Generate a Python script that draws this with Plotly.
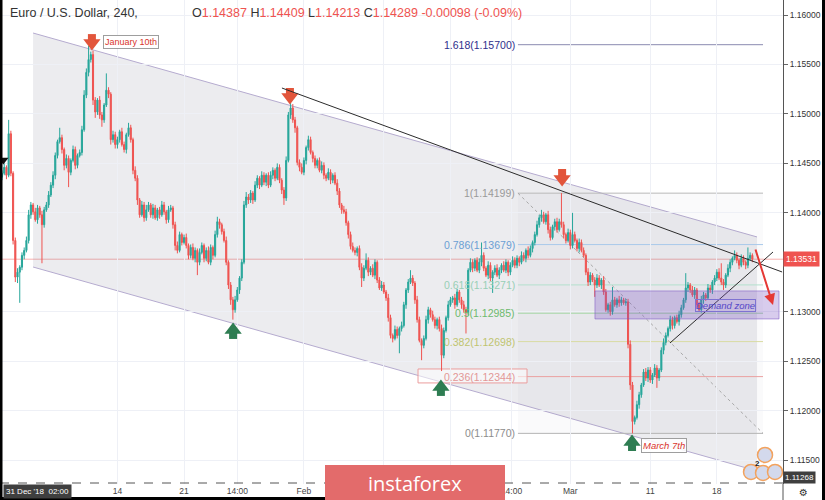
import plotly.graph_objects as go

# ---------------- data: EUR/USD, 240-minute candles ----------------
FIRST_OPEN = 1.1436

close_w0 = [1.1440, 1.1446, 1.1438, 1.1480, 1.1440, 1.1372, 1.1335, 1.1340, 1.1345, 1.1357,
            1.1362, 1.1372, 1.1398, 1.1408, 1.1401, 1.1393, 1.1405, 1.1398, 1.1388, 1.1403,
            1.1408, 1.1418]
close_w1 = [1.1428, 1.1438, 1.1458, 1.1472, 1.1476, 1.1464, 1.1448, 1.1455, 1.1441, 1.1453,
            1.1464, 1.1448, 1.1458, 1.1461, 1.1484, 1.1519, 1.1542, 1.1555, 1.1560, 1.1514,
            1.1502, 1.1514, 1.1499, 1.1494, 1.1509, 1.1524, 1.1520, 1.1474, 1.1479, 1.1469]
close_w2 = [1.1474, 1.1482, 1.1469, 1.1464, 1.1479, 1.1486, 1.1474, 1.1443, 1.1435, 1.1413,
            1.1398, 1.1408, 1.1395, 1.1403, 1.1408, 1.1398, 1.1405, 1.1395, 1.1403, 1.1398,
            1.1408, 1.1401, 1.1393, 1.1403, 1.1405, 1.1388, 1.1367, 1.1362, 1.1378, 1.1370]
close_w3 = [1.1375, 1.1367, 1.1357, 1.1365, 1.1354, 1.1362, 1.1350, 1.1360, 1.1367, 1.1354,
            1.1362, 1.1350, 1.1365, 1.1357, 1.1378, 1.1391, 1.1388, 1.1381, 1.1372, 1.1350,
            1.1327, 1.1312, 1.1302, 1.1312, 1.1322, 1.1334, 1.1350, 1.1408, 1.1416, 1.1413]
close_w4 = [1.1420, 1.1413, 1.1428, 1.1435, 1.1428, 1.1438, 1.1431, 1.1438, 1.1428, 1.1438,
            1.1443, 1.1435, 1.1446, 1.1433, 1.1423, 1.1415, 1.1453, 1.1499, 1.1506, 1.1494,
            1.1486, 1.1451, 1.1446, 1.1441, 1.1453, 1.1466, 1.1474, 1.1461, 1.1455, 1.1448]
close_w5 = [1.1453, 1.1443, 1.1448, 1.1438, 1.1435, 1.1441, 1.1433, 1.1438, 1.1430, 1.1422,
            1.1408, 1.1403, 1.1401, 1.1390, 1.1378, 1.1366, 1.1362, 1.1360, 1.1364, 1.1345,
            1.1334, 1.1344, 1.1352, 1.1340, 1.1344, 1.1337, 1.1350, 1.1332, 1.1324, 1.1327]
close_w6 = [1.1320, 1.1314, 1.1294, 1.1276, 1.1273, 1.1282, 1.1276, 1.1283, 1.1286, 1.1307,
            1.1322, 1.1330, 1.1334, 1.1329, 1.1312, 1.1292, 1.1271, 1.1266, 1.1273, 1.1292,
            1.1302, 1.1297, 1.1292, 1.1286, 1.1292, 1.1283, 1.1256, 1.1281, 1.1294, 1.1307]
close_w7 = [1.1312, 1.1314, 1.1307, 1.1320, 1.1312, 1.1307, 1.1302, 1.1299, 1.1342, 1.1350,
            1.1344, 1.1352, 1.1342, 1.1350, 1.1357, 1.1344, 1.1337, 1.1347, 1.1334, 1.1340,
            1.1344, 1.1337, 1.1342, 1.1347, 1.1342, 1.1350, 1.1340, 1.1347, 1.1352, 1.1347]
close_w8 = [1.1354, 1.1350, 1.1357, 1.1354, 1.1362, 1.1357, 1.1364, 1.1370, 1.1378, 1.1388,
            1.1395, 1.1398, 1.1391, 1.1398, 1.1383, 1.1375, 1.1386, 1.1391, 1.1383, 1.1391,
            1.1388, 1.1378, 1.1372, 1.1380, 1.1367, 1.1378, 1.1372, 1.1364, 1.1370, 1.1362]
close_w9 = [1.1357, 1.1340, 1.1330, 1.1337, 1.1332, 1.1327, 1.1334, 1.1327, 1.1332, 1.1320,
            1.1302, 1.1307, 1.1300, 1.1312, 1.1307, 1.1312, 1.1309, 1.1312, 1.1309, 1.1310,
            1.1267, 1.1226, 1.1189, 1.1193, 1.1206, 1.1216, 1.1226, 1.1239, 1.1233, 1.1241]
close_w10 = [1.1231, 1.1236, 1.1243, 1.1233, 1.1241, 1.1261, 1.1269, 1.1276, 1.1283, 1.1292,
             1.1286, 1.1294, 1.1290, 1.1297, 1.1304, 1.1312, 1.1324, 1.1327, 1.1322, 1.1317,
             1.1322, 1.1307, 1.1302, 1.1312, 1.1317, 1.1314, 1.1324, 1.1322, 1.1330, 1.1334]
close_w11 = [1.1340, 1.1334, 1.1330, 1.1327, 1.1337, 1.1344, 1.1350, 1.1354, 1.1357, 1.1352,
             1.1347, 1.1354, 1.1350, 1.1347, 1.1354, 1.1357, 1.13531]

# upper / lower wick lengths in pips (0.0001)
up_w0 = [3, 4, 2, 14, 3, 2, 3, 4, 2, 3, 3, 4, 5, 3, 2, 4, 3, 2, 4, 3, 3, 4]
dn_w0 = [3, 2, 4, 2, 3, 4, 5, 6, 31, 3, 4, 2, 3, 4, 3, 2, 4, 3, 39, 3, 2, 3]
up_w1 = [3, 4, 3, 2, 10, 3, 2, 4, 3, 2, 4, 3, 2, 3, 4, 5, 4, 14, 3, 4, 3, 2, 4, 3, 2, 17, 3, 2, 4, 3]
dn_w1 = [2, 3, 4, 3, 2, 4, 5, 3, 15, 3, 2, 4, 3, 2, 3, 2, 3, 4, 3, 5, 6, 3, 4, 7, 3, 2, 4, 5, 3, 4]
up_w2 = [3, 2, 4, 3, 2, 5, 3, 2, 4, 3, 2, 4, 3, 5, 3, 2, 4, 3, 2, 3, 4, 3, 2, 4, 3, 2, 3, 4, 3, 2]
dn_w2 = [4, 3, 2, 3, 4, 2, 3, 4, 3, 5, 3, 2, 4, 3, 2, 3, 4, 2, 3, 4, 2, 3, 4, 3, 2, 4, 5, 3, 2, 3]
up_w3 = [3, 4, 2, 3, 4, 3, 2, 4, 3, 2, 3, 4, 3, 2, 4, 5, 3, 2, 3, 4, 2, 3, 3, 4, 3, 2, 3, 4, 5, 3]
dn_w3 = [2, 3, 4, 3, 2, 4, 13, 3, 2, 4, 3, 2, 3, 4, 2, 3, 4, 3, 2, 3, 4, 5, 10, 3, 2, 4, 3, 2, 3, 4]
up_w4 = [3, 2, 4, 3, 2, 4, 3, 2, 3, 4, 3, 2, 4, 3, 2, 3, 4, 3, 5, 4, 3, 2, 3, 4, 3, 2, 4, 3, 2, 3]
dn_w4 = [3, 4, 2, 3, 4, 2, 3, 4, 3, 2, 4, 3, 2, 3, 4, 7, 3, 2, 4, 3, 5, 3, 4, 2, 3, 4, 3, 2, 4, 3]
up_w5 = [2, 3, 4, 3, 2, 4, 3, 2, 3, 4, 3, 2, 4, 3, 2, 3, 4, 3, 2, 3, 4, 3, 7, 3, 2, 4, 3, 2, 3, 4]
dn_w5 = [3, 2, 3, 4, 3, 2, 4, 3, 2, 4, 3, 4, 2, 3, 4, 3, 2, 3, 4, 3, 9, 3, 2, 4, 3, 2, 4, 3, 2, 3]
up_w6 = [3, 2, 4, 3, 2, 4, 3, 2, 4, 3, 2, 3, 8, 3, 2, 4, 3, 2, 3, 4, 3, 2, 4, 3, 2, 3, 4, 3, 2, 4]
dn_w6 = [2, 3, 4, 3, 4, 2, 3, 18, 3, 2, 4, 3, 2, 3, 4, 3, 2, 15, 3, 2, 4, 3, 2, 3, 4, 3, 16, 3, 2, 3]
up_w7 = [3, 2, 4, 3, 2, 3, 4, 3, 2, 4, 3, 2, 3, 4, 13, 3, 2, 4, 3, 2, 3, 4, 3, 2, 4, 3, 2, 3, 4, 3]
dn_w7 = [2, 3, 4, 2, 3, 4, 3, 21, 3, 2, 4, 3, 2, 3, 4, 3, 2, 4, 3, 15, 3, 2, 4, 3, 2, 3, 4, 3, 2, 3]
up_w8 = [3, 2, 4, 3, 2, 4, 3, 2, 3, 4, 3, 5, 3, 2, 4, 3, 2, 3, 4, 3, 29, 3, 2, 4, 3, 22, 3, 2, 4, 3]
dn_w8 = [3, 4, 2, 3, 4, 3, 2, 4, 3, 2, 3, 4, 2, 3, 4, 3, 2, 4, 3, 2, 3, 4, 3, 2, 4, 3, 2, 3, 4, 2]
up_w9 = [3, 2, 4, 3, 2, 3, 4, 3, 2, 4, 3, 2, 3, 13, 3, 2, 4, 3, 2, 3, 3, 4, 3, 2, 4, 3, 2, 3, 4, 3]
dn_w9 = [2, 3, 4, 3, 2, 12, 3, 2, 4, 3, 2, 3, 4, 3, 2, 3, 4, 3, 2, 3, 4, 5, 12, 3, 2, 4, 3, 2, 3, 4]
up_w10 = [3, 2, 4, 3, 2, 3, 4, 3, 2, 4, 3, 2, 3, 4, 3, 2, 15, 3, 2, 4, 3, 2, 3, 4, 3, 2, 4, 3, 2, 3]
dn_w10 = [3, 4, 2, 10, 3, 2, 4, 3, 2, 3, 4, 3, 2, 4, 3, 2, 3, 4, 3, 2, 4, 3, 2, 3, 4, 3, 2, 3, 4, 3]
up_w11 = [3, 4, 15, 3, 2, 4, 3, 2, 5, 3, 2, 4, 3, 2, 11, 3, 2]
dn_w11 = [3, 2, 3, 5, 3, 2, 4, 3, 2, 3, 4, 2, 3, 4, 3, 2, 3]

# axis ticks (labels under the watermark are hidden in the reference)
time_tick_idx = [52, 82, 106, 136, 172, 202, 229.5, 256, 292, 322]
time_tick_txt = ["14", "21", "14:00", "Feb", "", "", "14:00", "Mar", "11", "18"]
price_ticks = [1.115, 1.120, 1.125, 1.130, 1.140, 1.145, 1.150, 1.155, 1.160]

# fibonacci retracement levels (labels on the chart)
fib_ratio = ["0", "0.236", "0.382", "0.5", "0.618", "0.786", "1", "1.618"]
fib_price = [1.11770, 1.12344, 1.12698, 1.12985, 1.13271, 1.13679, 1.14199, 1.15700]
fib_text_color = ["#8c8c8c", "#e39696", "#bfc46f", "#6dba6d", "#98cfb6", "#6b9fd4", "#9a9a9a", "#2e2e8c"]
fib_line_color = ["#b4b4b4", "#eaa2a2", "#d9dca3", "#a3d6a3", "#b3e0cd", "#a9c9ea", "#b8b8b8", "#8a8ab0"]

LAST_PRICE = 1.13531
CROSS_PRICE = 1.11268

# ---------------- assemble candles ----------------
closes = (close_w0 + close_w1 + close_w2 + close_w3 + close_w4 + close_w5 + close_w6 +
          close_w7 + close_w8 + close_w9 + close_w10 + close_w11)
up_wick = (up_w0 + up_w1 + up_w2 + up_w3 + up_w4 + up_w5 + up_w6 + up_w7 + up_w8 +
           up_w9 + up_w10 + up_w11)
dn_wick = (dn_w0 + dn_w1 + dn_w2 + dn_w3 + dn_w4 + dn_w5 + dn_w6 + dn_w7 + dn_w8 +
           dn_w9 + dn_w10 + dn_w11)
opens = [FIRST_OPEN] + closes[:-1]
highs = [max(o, c) + u * 0.0001 for o, c, u in zip(opens, closes, up_wick)]
lows = [min(o, c) - d * 0.0001 for o, c, d in zip(opens, closes, dn_wick)]
idx = list(range(len(closes)))

FONT = "Liberation Sans, Arial, sans-serif"

fig = go.Figure()
fig.add_trace(go.Candlestick(
    x=idx, open=opens, high=highs, low=lows, close=closes,
    increasing=dict(line=dict(color="#26a69a", width=1), fillcolor="#26a69a"),
    decreasing=dict(line=dict(color="#ef5350", width=1), fillcolor="#ef5350"),
    hoverinfo="skip", showlegend=False))

shapes = []
# descending channel
CH_X = [14.0, 340.1]
CH_UP = [1.15818, 1.13756]
CH_LO = [1.13452, 1.11390]
shapes.append(dict(type="path", xref="x", yref="y", layer="below",
                   path=f"M {CH_X[0]},{CH_UP[0]} L {CH_X[1]},{CH_UP[1]} L {CH_X[1]},{CH_LO[1]} L {CH_X[0]},{CH_LO[0]} Z",
                   fillcolor="rgba(125,125,150,0.15)", line=dict(width=0)))
for ys in (CH_UP, CH_LO):
    shapes.append(dict(type="line", xref="x", yref="y", layer="below",
                       x0=CH_X[0], y0=ys[0], x1=CH_X[1], y1=ys[1],
                       line=dict(color="#b5abcf", width=1)))

# fibonacci
FIB_X = [232.4, 342.8]
shapes.append(dict(type="rect", xref="x", yref="y", layer="below",
                   x0=FIB_X[0], x1=FIB_X[1], y0=fib_price[0], y1=fib_price[6],
                   fillcolor="rgba(125,125,150,0.04)", line=dict(width=0)))
for p, lc in zip(fib_price, fib_line_color):
    shapes.append(dict(type="line", xref="x", yref="y", layer="below",
                       x0=FIB_X[0], x1=FIB_X[1], y0=p, y1=p, line=dict(color=lc, width=1)))
shapes.append(dict(type="line", xref="x", yref="y", layer="below",
                   x0=FIB_X[0], y0=fib_price[6], x1=FIB_X[1], y1=fib_price[0],
                   line=dict(color="#a8a8a8", width=1, dash="dot")))
# box around 0.236 label
shapes.append(dict(type="rect", xref="x", yref="y", layer="below",
                   x0=187.4, x1=236.5, y0=1.12280, y1=1.12421,
                   fillcolor="rgba(255,255,255,0.55)", line=dict(color="#eb9d9d", width=1)))

# last price line
shapes.append(dict(type="line", xref="paper", yref="y", layer="below",
                   x0=0, x1=1, y0=LAST_PRICE, y1=LAST_PRICE,
                   line=dict(color="rgba(239,83,80,0.45)", width=1)))
# crosshair horizontal
shapes.append(dict(type="line", xref="paper", yref="y", layer="above",
                   x0=0, x1=1, y0=CROSS_PRICE, y1=CROSS_PRICE,
                   line=dict(color="#555555", width=1, dash="dash")))

# trend lines
shapes.append(dict(type="line", xref="x", yref="y", layer="above",
                   x0=126.1, y0=1.15262, x1=351.4, y1=1.13402,
                   line=dict(color="#2b2b2b", width=1)))
shapes.append(dict(type="line", xref="x", yref="y", layer="above",
                   x0=300.9, y0=1.12684, x1=347.3, y1=1.13604,
                   line=dict(color="#2b2b2b", width=1)))

# demand zone
shapes.append(dict(type="rect", xref="x", yref="y", layer="above",
                   x0=267.1, x1=350.0, y0=1.12927, y1=1.13210,
                   fillcolor="rgba(126,87,194,0.30)", line=dict(color="rgba(126,87,194,0.55)", width=1)))

# watermark + frame (paper coords; plot area is 783 x 484 px)
shapes.append(dict(type="rect", xref="paper", yref="paper", layer="above",
                   x0=325 / 783, x1=505 / 783, y0=-16 / 484, y1=19 / 484,
                   fillcolor="#e36b6b", line=dict(width=0)))
shapes.append(dict(type="rect", xref="paper", yref="paper", layer="above",
                   x0=0, x1=2.5 / 783, y0=-16 / 484, y1=1, fillcolor="#000", line=dict(width=0)))
shapes.append(dict(type="rect", xref="paper", yref="paper", layer="above",
                   x0=822 / 783, x1=825 / 783, y0=-16 / 484, y1=1, fillcolor="#000", line=dict(width=0)))
shapes.append(dict(type="rect", xref="paper", yref="paper", layer="above",
                   x0=0, x1=325 / 783, y0=-16 / 484, y1=-13 / 484, fillcolor="#000", line=dict(width=0)))
shapes.append(dict(type="line", xref="paper", yref="paper", layer="above",
                   x0=1, x1=1, y0=-16 / 484, y1=0, line=dict(color="#555", width=1)))

# arrow markers (down = red, up = green)
red_x = [40.5, 129.7, 252.3]
red_shaft = [1.15767, 1.15222, 1.14403]
red_head = [1.15717, 1.15171, 1.14342]
grn_x = [104.1, 197.7, 283.8]
grn_head = [1.12815, 1.12239, 1.11683]
grn_shaft = [1.12765, 1.12189, 1.11632]
fig.add_trace(go.Scatter(x=red_x, y=red_shaft, mode="markers", hoverinfo="skip",
                         marker=dict(symbol="square", size=8, color="#e2553b")))
fig.add_trace(go.Scatter(x=red_x, y=red_head, mode="markers", hoverinfo="skip",
                         marker=dict(symbol="triangle-down", size=15, color="#e2553b")))
fig.add_trace(go.Scatter(x=grn_x, y=grn_shaft, mode="markers", hoverinfo="skip",
                         marker=dict(symbol="square", size=8, color="#2e7d52")))
fig.add_trace(go.Scatter(x=grn_x, y=grn_head, mode="markers", hoverinfo="skip",
                         marker=dict(symbol="triangle-up", size=15, color="#2e7d52")))
# small black marker at left edge
fig.add_trace(go.Scatter(x=[0.6], y=[1.14534], mode="markers", hoverinfo="skip",
                         marker=dict(symbol="triangle-down", size=9, color="#111")))
# event icons bottom right
fig.add_trace(go.Scatter(x=[343.7, 337.4, 342.8, 348.2], y=[1.11552, 1.11380, 1.11370, 1.11380],
                         mode="markers", hoverinfo="skip",
                         marker=dict(symbol="circle", size=15, color="#d3d9ec",
                                     line=dict(color="#f2a25e", width=1.5))))

annotations = []
# header
annotations.append(dict(xref="paper", yref="paper", x=8 / 783, y=(484 - 13) / 484,
                        xanchor="left", yanchor="middle", showarrow=False,
                        text="Euro / U.S. Dollar, 240,", font=dict(size=12.5, color="#333", family=FONT)))
R = "<span style='color:#ef5350'>{}</span>"
annotations.append(dict(xref="paper", yref="paper", x=190 / 783, y=(484 - 13) / 484,
                        xanchor="left", yanchor="middle", showarrow=False,
                        text=("O" + R.format("1.14387") + " H" + R.format("1.14409") + " L" +
                              R.format("1.14213") + " C" + R.format("1.14289") + " " +
                              R.format("-0.00098 (-0.09%)")),
                        font=dict(size=12.5, color="#333", family=FONT)))
# fib labels
for r, p, tc in zip(fib_ratio, fib_price, fib_text_color):
    annotations.append(dict(xref="x", yref="y", x=FIB_X[0] - 0.4, y=p, xanchor="right", yanchor="middle",
                            showarrow=False, text=f"{r}({p:.5f})",
                            font=dict(size=10.5, color=tc, family=FONT)))
# text labels
annotations.append(dict(xref="x", yref="y", x=58.3, y=1.15727, showarrow=False,
                        text="January 10th", font=dict(size=9, color="#d9342b", family=FONT),
                        bgcolor="white", bordercolor="#9e9e9e", borderwidth=1, borderpad=1))
annotations.append(dict(xref="x", yref="y", x=298.4, y=1.11652, showarrow=False,
                        text="<i>March 7th</i>", font=dict(size=9.5, color="#d9342b", family=FONT),
                        bgcolor="rgba(255,255,255,0.85)", bordercolor="#9e9e9e", borderwidth=1, borderpad=1))
annotations.append(dict(xref="x", yref="y", x=325.7, y=1.13058, showarrow=False,
                        text="<i>Demand zone</i>", font=dict(size=9.5, color="#5548c8", family=FONT),
                        bordercolor="#7f72d2", borderwidth=1, borderpad=0))
annotations.append(dict(xref="x", yref="y", x=340.5, y=1.11470, showarrow=False,
                        text="<b>2</b>", font=dict(size=8, color="#222", family=FONT)))
# red projection arrow
annotations.append(dict(xref="x", yref="y", axref="x", ayref="y", x=347.3, y=1.13068,
                        ax=339.2, ay=1.13644, text="", showarrow=True, arrowhead=2,
                        arrowsize=1.1, arrowwidth=2, arrowcolor="#e53935"))
# price-axis labels
annotations.append(dict(xref="paper", yref="y", x=1.0, y=LAST_PRICE, xanchor="left", yanchor="middle",
                        showarrow=False, text="1.13531", bgcolor="#ef5350", borderpad=2,
                        font=dict(size=8.5, color="white", family=FONT)))
annotations.append(dict(xref="paper", yref="paper", x=1.0, y=0.5 / 484, xanchor="left", yanchor="bottom",
                        showarrow=False, text="1.11268", bgcolor="#3f3f3f", borderpad=1,
                        font=dict(size=8, color="white", family=FONT)))
# crosshair time label
annotations.append(dict(xref="paper", yref="paper", x=2.5 / 783, y=0, xanchor="left", yanchor="top",
                        showarrow=False, text="31 Dec '18  02:00", bgcolor="#3f3f3f", borderpad=2,
                        font=dict(size=8, color="white", family=FONT)))
# watermark text
annotations.append(dict(xref="paper", yref="paper", x=415 / 783, y=(484 - 483) / 484,
                        xanchor="center", yanchor="middle", showarrow=False, text="instaforex",
                        font=dict(size=20, color="white", family="Open Sans, sans-serif")))
# settings gear
annotations.append(dict(xref="paper", yref="paper", x=803 / 783, y=-16 / 484,
                        xanchor="center", yanchor="bottom", showarrow=False, text="⚙",
                        font=dict(size=10, color="#333", family="DejaVu Sans")))

fig.update_layout(
    width=825, height=500,
    margin=dict(l=0, r=42, t=0, b=16, autoexpand=False),
    paper_bgcolor="white", plot_bgcolor="white",
    showlegend=False, shapes=shapes, annotations=annotations,
    font=dict(family=FONT, color="#333"),
    xaxis=dict(range=[-0.9, 351.8], tickmode="array", tickvals=time_tick_idx, ticktext=time_tick_txt,
               showgrid=True, gridcolor="#eef0f6", zeroline=False, showline=False, ticks="",
               tickfont=dict(size=8.5, color="#444"), rangeslider=dict(visible=False), fixedrange=True),
    yaxis=dict(range=[1.11258, 1.16152], side="right", tickmode="array", tickvals=price_ticks,
               tickformat=".5f", showgrid=True, gridcolor="#eef0f6", zeroline=False,
               showline=True, linecolor="#555", linewidth=1, ticks="outside", ticklen=4,
               tickcolor="#666", tickfont=dict(size=8.5, color="#333"), fixedrange=True),
)

fig.write_html("out.html", config={"displayModeBar": False},
               post_script="document.body.style.margin='0';document.body.style.padding='0';"
                           "document.body.style.overflow='hidden';")
